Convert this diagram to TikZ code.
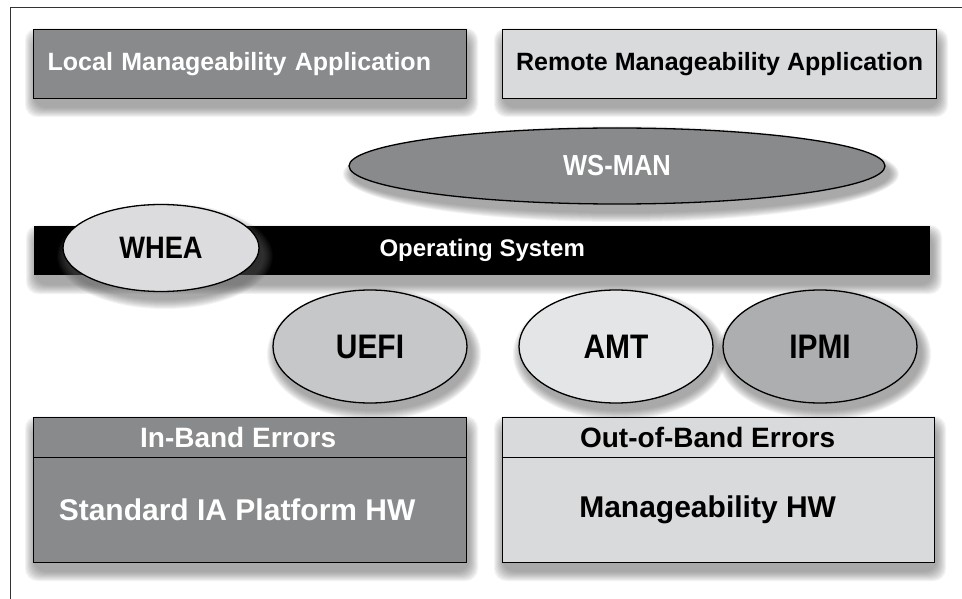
\documentclass[tikz,border=0pt]{standalone}
\usepackage{fontspec}
\setmainfont{Liberation Sans}
\usetikzlibrary{shapes.geometric}
\definecolor{darkbox}{HTML}{898A8C}
\definecolor{lightbox}{HTML}{D9DADC}
\definecolor{wheafill}{HTML}{DCDCDE}
\definecolor{uefifill}{HTML}{C6C7C9}
\definecolor{amtfill}{HTML}{E4E5E6}
\definecolor{ipmifill}{HTML}{ADAEB0}
\definecolor{shadowc}{HTML}{606060}
\definecolor{framec}{HTML}{333333}
\newcommand\fz[1]{\fontsize{#1}{#1}\selectfont\bfseries}
\newcommand\narrow[1]{\scalebox{0.88}[1]{#1}}
% rectangle shadow: x1 y1 x2 y2
\newcommand\rshadow[4]{\foreach \k in {0,...,9}{%
  \fill[shadowc, opacity=0.07, rounded corners=12pt]
    ({#1+2-10+\k},{#2+9-10+\k}) rectangle ({#3+2+10-\k},{#4+9+10-\k});}}
% ellipse shadow: cx cy rx ry
\newcommand\eshadow[4]{\foreach \k in {0,...,9}{%
  \fill[shadowc, opacity=0.07]
    ({#1+4},{#2+8}) ellipse [x radius={(#3+10-\k)*1pt}, y radius={(#4+10-\k)*1pt}];}}
\begin{document}
\begin{tikzpicture}[x=1pt,y=-1pt,
  box/.style={draw=black, line width=1.3pt, rectangle, inner sep=0pt},
  ell/.style={draw=black, line width=1.3pt, ellipse, inner sep=0pt},
  frameline/.style={draw=framec, line width=1pt}]
\useasboundingbox (0,0) rectangle (962,599);
\fill[white] (0,0) rectangle (962,599);
\draw[frameline] (10,599) -- (10,8) -- (962,8);

% top application boxes
\rshadow{33}{29}{466}{98}
\rshadow{502}{29}{936}{98}
\node[box, fill=darkbox, anchor=north west, minimum height=69pt,
      inner xsep=14pt, text width=405pt, align=left, text=white, font=\fz{25}]
  (local) at (33,29) {Local Manageability Application};
\node[box, fill=lightbox, anchor=north west, minimum width=434pt, minimum height=69pt,
      text=black, font=\fz{25}]
  (remote) at (502,29) {Remote Manageability Application};

% WS-MAN
\eshadow{617}{166}{268}{38}
\node[ell, fill=darkbox, minimum width=536pt, minimum height=76pt,
      text=white, font=\fz{29}] (wsman) at (617,166) {\narrow{WS-MAN}};

% Operating system bar
\rshadow{34}{226}{930}{275}
\node[fill=black, anchor=north west, minimum width=896pt, minimum height=49pt,
      inner sep=0pt, text=white, font=\fz{24}] (os) at (34,226) {Operating System};

% WHEA
\eshadow{161}{248}{98}{43}
\node[ell, fill=wheafill, minimum width=196pt, minimum height=87pt,
      font=\fz{31}] (whea) at (161,248) {\narrow{WHEA}};

% firmware ellipses
\eshadow{370}{346}{97}{56}
\eshadow{616}{346}{97}{56}
\eshadow{820}{346}{97}{56}
\node[ell, fill=uefifill, minimum width=194pt, minimum height=113pt,
      font=\fz{34}] (uefi) at (370,346.5) {\narrow{UEFI}};
\node[ell, fill=amtfill, minimum width=194pt, minimum height=113pt,
      font=\fz{34}] (amt) at (616,346.5) {\narrow{AMT}};
\node[ell, fill=ipmifill, minimum width=194pt, minimum height=113pt,
      font=\fz{34}] (ipmi) at (820,346.5) {\narrow{IPMI}};

% bottom hardware boxes
\rshadow{33}{417}{466}{562}
\rshadow{502}{417}{934}{562}
\node[box, fill=darkbox, anchor=north west, minimum width=433pt, minimum height=40pt]
  (inhead) at (33,417) {};
\node[box, fill=darkbox, anchor=north west, minimum width=433pt, minimum height=105pt]
  (inbody) at (33,457) {};
\node[box, fill=lightbox, anchor=north west, minimum width=432pt, minimum height=40pt]
  (outhead) at (502,417) {};
\node[box, fill=lightbox, anchor=north west, minimum width=432pt, minimum height=105pt]
  (outbody) at (502,457) {};
\node[text=white, font=\fz{28}] (inheadtxt) at ([xshift=-12pt]inhead.center) {In-Band Errors};
\node[text=white, font=\fz{30}] (inbodytxt) at ([xshift=-13pt]inbody.center) {Standard IA Platform HW};
\node[text=black, font=\fz{28}] (outheadtxt) at ([xshift=-11pt]outhead.center) {Out-of-Band Errors};
\node[text=black, font=\fz{30}] (outbodytxt) at ([xshift=-11pt]outbody.center) {Manageability HW};
\end{tikzpicture}
\end{document}
